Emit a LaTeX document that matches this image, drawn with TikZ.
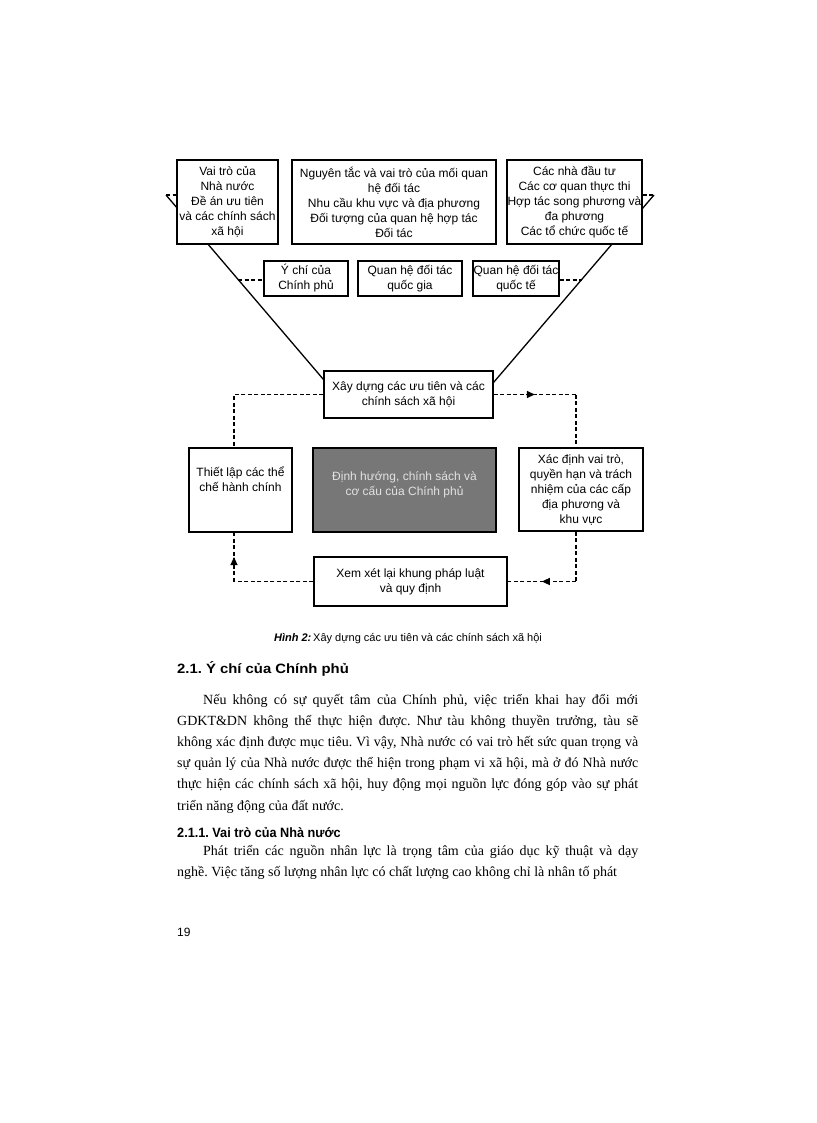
\documentclass[tikz,border=0pt]{standalone}
\usepackage{fontspec}
\usepackage{graphicx}
\setmainfont{Liberation Serif}
\setsansfont{Liberation Sans}
\usetikzlibrary{arrows.meta,backgrounds,decorations.markings}
\frenchspacing

\definecolor{govgray}{HTML}{777777}
\definecolor{govtext}{HTML}{E2E2E2}
\newcommand{\diagfont}{\sffamily\fontsize{12}{15}\selectfont}

\begin{document}
\begin{tikzpicture}[x=1pt,y=-1pt,
    box/.style={draw=black,line width=1.3pt,fill=white,align=center,inner sep=0pt,font=\diagfont},
    funnel/.style={line width=1.3pt},
    tick/.style={line width=1.2pt,dash pattern=on 4pt off 2.5pt},
    loopline/.style={line width=1.4pt,dash pattern=on 4pt off 2.5pt},
    midarrow/.style={postaction={decorate},decoration={markings,mark=at position 0.5 with {\arrow{Triangle[length=8pt,width=7pt]}}}},
    prose/.style={anchor=base west,inner sep=0pt,text width=461pt,align=justify,font=\fontsize{14}{21.2}\selectfont},
    heading/.style={anchor=base west,inner sep=0pt,font=\sffamily\bfseries\fontsize{13.5}{15}\selectfont}]
    \path[use as bounding box] (0,0) rectangle (816,1123);

    % top row
    \node[box,minimum width=101,minimum height=84] (roleA) at (227.5,202) {Vai trò của\\Nhà nước\\Đề án ưu tiên\\và các chính sách\\xã hội};
    \node[box,minimum width=204,minimum height=84] (principles) at (394,202) {Nguyên tắc và vai trò của mối quan\\hệ đối tác\\Nhu cầu khu vực và địa phương\\Đối tượng của quan hệ hợp tác\\Đối tác};
    \node[box,minimum width=135,minimum height=84] (investors) at (574.5,202) {Các nhà đầu tư\\Các cơ quan thực thi\\Hợp tác song phương và\\đa phương\\Các tổ chức quốc tế};

    % middle row
    \node[box,minimum width=84,minimum height=35] (will) at (306,278.5) {Ý chí của\\Chính phủ};
    \node[box,minimum width=104,minimum height=35] (natpart) at (410,278.5) {Quan hệ đối tác\\quốc gia};
    \node[box,minimum width=86,minimum height=35] (intpart) at (516,278.5) {Quan hệ đối tác\\quốc tế};

    % loop
    \node[box,minimum width=169,minimum height=47] (build) at (408.5,394.5) {Xây dựng các ưu tiên và các\\chính sách xã hội};
    \node[box,minimum width=103,minimum height=84] (setup) at (240.5,490) {Thiết lập các thể\\chế hành chính\\[6pt]};
    \node[box,fill=govgray,text=govtext,minimum width=183,minimum height=84] (gov) at (404.5,490) {Định hướng, chính sách và\\cơ cấu của Chính phủ\\[-3pt]};
    \node[box,minimum width=124,minimum height=83] (define) at (581,489.5) {Xác định vai trò,\\quyền hạn và trách\\nhiệm của các cấp\\địa phương và\\khu vực};
    \node[box,minimum width=193,minimum height=49] (review) at (410.5,581.5) {Xem xét lại khung pháp luật\\và quy định};

    \coordinate (fl) at (166,195);
    \coordinate (fr) at (654,195);
    \coordinate (sl) at (238,280);
    \coordinate (sr) at (582,280);
    \coordinate (lt) at (234,394.5);
    \coordinate (rt) at (576,394.5);

    \begin{scope}[on background layer]
        \draw[funnel] (fl) -- ([yshift=-9pt]build.north west);
        \draw[funnel] (fr) -- ([yshift=-12pt]build.north east);
    \end{scope}
    \draw[tick] (fl) -- (fl -| roleA.west);
    \draw[tick] (investors.east |- fr) -- (fr);
    \draw[tick] (sl) -- (sl -| will.west);
    \draw[tick] (intpart.east |- sr) -- (sr);

    \draw[loopline] (build.west) -- (lt) -- (lt |- setup.north);
    \draw[loopline,midarrow] (build.east) -- (rt);
    \draw[loopline] (rt) -- (rt |- define.north);
    \draw[loopline] (rt |- define.south) -- (rt |- review.east);
    \draw[loopline,midarrow] (rt |- review.east) -- (review.east);
    \draw[loopline] (review.west) -- (lt |- review.west);
    \draw[loopline,midarrow] (lt |- review.west) -- (lt |- setup.south);

    % caption and text of the page
    \node[anchor=base,inner sep=0pt,font=\sffamily\fontsize{11}{12}\selectfont] (caption) at (408,641) {\textbf{\textit{Hình 2:}}\,Xây dựng các ưu tiên và các chính sách xã hội};
    \node[heading] (sec) at (177,673) {\scalebox{1.1}[1]{2.1. Ý chí của Chính phủ}};
    \node[prose] (para1) at (177,704) {\hspace*{26pt}Nếu không có sự quyết tâm của Chính phủ, việc triển khai hay đổi mới\linebreak
        GDKT\&DN không thể thực hiện được. Như tàu không thuyền trưởng, tàu sẽ\linebreak
        không xác định được mục tiêu. Vì vậy, Nhà nước có vai trò hết sức quan trọng và\linebreak
        sự quản lý của Nhà nước được thể hiện trong phạm vi xã hội, mà ở đó Nhà nước\linebreak
        thực hiện các chính sách xã hội, huy động mọi nguồn lực đóng góp vào sự phát\linebreak
        triển năng động của đất nước.};
    \node[heading] (subsec) at (177,837) {\scalebox{0.94}[1]{2.1.1. Vai trò của Nhà nước}};
    \node[prose] (para2) at (177,855) {\hspace*{26pt}Phát triển các nguồn nhân lực là trọng tâm của giáo dục kỹ thuật và dạy\linebreak
        \parfillskip=0pt nghề. Việc tăng số lượng nhân lực có chất lượng cao không chỉ là nhân tố phát};
    \node[anchor=base west,inner sep=0pt,font=\sffamily\fontsize{12}{14}\selectfont] (pagenum) at (177,936) {19};
\end{tikzpicture}
\end{document}
